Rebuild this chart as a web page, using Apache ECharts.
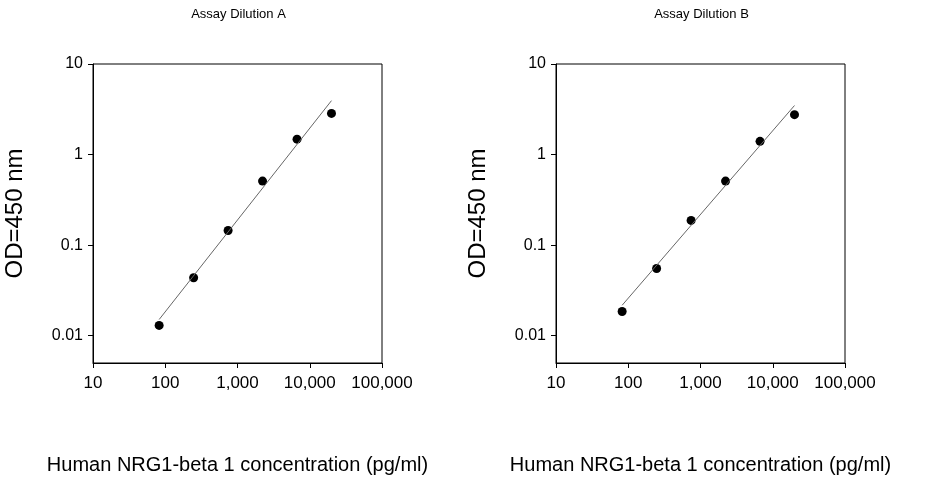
<!DOCTYPE html>
<html>
<head>
<meta charset="utf-8">
<script src="https://cdn.jsdelivr.net/npm/echarts@6/dist/echarts.min.js"></script>
<style>
  html, body { margin: 0; padding: 0; background: #fff; }
  #chart { width: 926px; height: 480px; }
</style>
</head>
<body>
<div id="chart"></div>
<script>
const titles = ['Assay Dilution A', 'Assay Dilution B'];
const concentrations = [82.3, 247, 741, 2222, 6667, 20000];
const odA = [0.013, 0.0437, 0.145, 0.51, 1.48, 2.85];
const odB = [0.0185, 0.0553, 0.1875, 0.51, 1.40, 2.76];
const fitX = [82.3, 20000];
const fitA = [0.0151, 3.94];
const fitB = [0.0217, 3.48];
const xTicks = [10, 100, 1000, 10000, 100000];
const yTicks = [0.01, 0.1, 1, 10];

const lg = Math.log10;
const font = 'Arial, "Liberation Sans", sans-serif';

function pairs(xs, ys) {
  return xs.map((x, i) => [lg(x), lg(ys[i])]);
}

const grids = [
  { left: 93, top: 64, width: 289, height: 302 },
  { left: 556, top: 64, width: 289, height: 302 }
];

const option = {
  animation: false,
  textStyle: { fontFamily: font },
  title: titles.map((t, i) => ({
    text: t,
    left: grids[i].left + grids[i].width / 2 - 4,
    top: 3,
    textAlign: 'center',
    textStyle: { fontSize: 13, fontWeight: 'normal', color: '#000', fontFamily: font }
  })),
  grid: grids.map(g => Object.assign({ show: true, borderColor: '#000', borderWidth: 1 }, g)),
  xAxis: [0, 1].map(i => ({
    type: 'value',
    gridIndex: i,
    min: 1,
    max: 5,
    interval: 1,
    name: 'Human NRG1-beta 1 concentration (pg/ml)',
    nameLocation: 'middle',
    nameGap: 92,
    nameTextStyle: { fontSize: 20, color: '#000', fontFamily: font },
    axisLine: { onZero: false, lineStyle: { color: '#000' } },
    axisTick: { show: true, length: 5, lineStyle: { color: '#000' }, customValues: xTicks.map(lg) },
    axisLabel: {
      fontSize: 17, color: '#000', margin: 12,
      customValues: xTicks.map(lg),
      formatter: v => Math.round(Math.pow(10, v)).toLocaleString('en-US')
    },
    splitLine: { show: false }
  })),
  yAxis: [0, 1].map(i => ({
    type: 'value',
    gridIndex: i,
    min: lg(0.005),
    max: 1,
    name: 'OD=450 nm',
    nameLocation: 'middle',
    nameGap: 66,
    nameTextStyle: { fontSize: 24, color: '#000', fontFamily: font },
    axisLine: { onZero: false, lineStyle: { color: '#000' } },
    axisTick: { show: true, length: 5, lineStyle: { color: '#000' }, customValues: yTicks.map(lg) },
    axisLabel: {
      fontSize: 16, color: '#000', margin: 10,
      customValues: yTicks.map(lg),
      formatter: v => String(Number(Math.pow(10, v).toPrecision(1)))
    },
    splitLine: { show: false }
  })),
  series: [
    { type: 'line', xAxisIndex: 0, yAxisIndex: 0, data: pairs(fitX, fitA), symbol: 'none',
      lineStyle: { color: '#666', width: 1 } },
    { type: 'scatter', xAxisIndex: 0, yAxisIndex: 0, data: pairs(concentrations, odA),
      symbolSize: 9, itemStyle: { color: '#000', opacity: 1 } },
    { type: 'line', xAxisIndex: 1, yAxisIndex: 1, data: pairs(fitX, fitB), symbol: 'none',
      lineStyle: { color: '#666', width: 1 } },
    { type: 'scatter', xAxisIndex: 1, yAxisIndex: 1, data: pairs(concentrations, odB),
      symbolSize: 9, itemStyle: { color: '#000', opacity: 1 } }
  ]
};

const chart = echarts.init(document.getElementById('chart'));
chart.setOption(option);
</script>
</body>
</html>
